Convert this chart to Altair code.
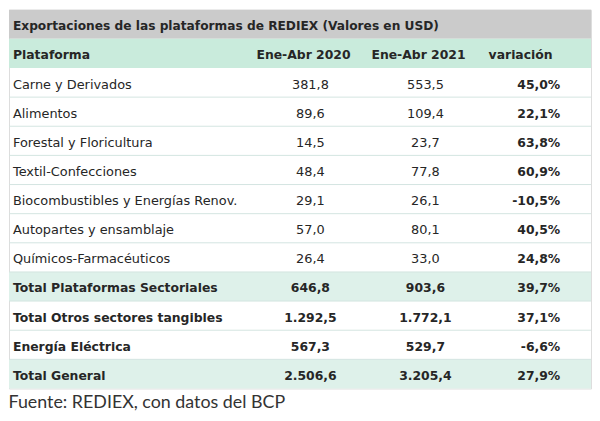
import altair as alt
import pandas as pd

title_text = "Exportaciones de las plataformas de REDIEX (Valores en USD)"
headers = ["Plataforma", "Ene-Abr 2020", "Ene-Abr 2021", "variación"]
labels = [
    "Carne y Derivados", "Alimentos", "Forestal y Floricultura",
    "Textil-Confecciones", "Biocombustibles y Energías Renov.",
    "Autopartes y ensamblaje", "Químicos-Farmacéuticos",
    "Total Plataformas Sectoriales", "Total Otros sectores tangibles",
    "Energía Eléctrica", "Total General",
]
v2020 = [381.8, 89.6, 14.5, 48.4, 29.1, 57.0, 26.4, 646.8, 1292.5, 567.3, 2506.6]
v2021 = [553.5, 109.4, 23.7, 77.8, 26.1, 80.1, 33.0, 903.6, 1772.1, 529.7, 3205.4]
variacion = [45.0, 22.1, 63.8, 60.9, -10.5, 40.5, 24.8, 39.7, 37.1, -6.6, 27.9]
bold = [False] * 7 + [True] * 4
source = "Fuente: REDIEX, con datos del BCP"

W, H = 587, 382
FONT = "DejaVu Sans"
FS_N = 13
FS_B = 12.5
TXT = "#262626"
DY = 2

rows = pd.DataFrame({
    "row": list(range(2, 2 + len(labels))),
    "label": labels, "v2020": v2020, "v2021": v2021,
    "variacion": variacion, "bold": bold,
})
bg = pd.DataFrame({"row": [0, 1, 9, 12],
                   "fill": ["#cbcbcb", "#c9ebdc", "#def1ea", "#def1ea"]})
lines = pd.DataFrame({"row": list(range(2, 12))})
top = pd.DataFrame({"row": [0], "t": [title_text]})
head = pd.DataFrame({"row": [1], "h0": [headers[0]], "h1": [headers[1]],
                     "h2": [headers[2]], "h3": [headers[3]]})

yscale = alt.Scale(domain=list(range(13)), paddingInner=0, paddingOuter=0)
Y = alt.Y("row:O", scale=yscale, axis=None)

rect = alt.Chart(bg).mark_rect().encode(
    y=Y, x=alt.value(0), x2=alt.value("width"),
    color=alt.Color("fill:N", scale=None),
)
rules = alt.Chart(lines).mark_rule(color="#d3e5e1", strokeWidth=1).encode(
    y=alt.Y("row:O", scale=yscale, axis=None, bandPosition=1),
    x=alt.value(0), x2=alt.value("width"),
)

def txt(df, field, x, align, weight, size, fmt=None, filt=None):
    c = alt.Chart(df)
    if filt is not None:
        c = c.transform_filter(filt)
    t = alt.Text(field, format=fmt) if fmt else alt.Text(field)
    return c.mark_text(align=align, baseline="middle", dy=DY, font=FONT,
                       fontSize=size, fontWeight=weight, color=TXT).encode(
        y=Y, x=alt.value(x), text=t)

layers = [rect, rules,
          txt(top, "t:N", 4, "left", "bold", 12.3),
          txt(head, "h0:N", 4, "left", "bold", FS_B),
          txt(head, "h1:N", 297, "center", "bold", FS_B),
          txt(head, "h2:N", 413, "center", "bold", FS_B),
          txt(head, "h3:N", 516, "center", "bold", FS_B)]

for filt, w, s in [("!datum.bold", "normal", FS_N), ("datum.bold", "bold", FS_B)]:
    layers.append(txt(rows, "label:N", 4, "left", w, s, filt=filt))
    layers.append(txt(rows, "v2020:Q", 304, "center", w, s, fmt=",.1f", filt=filt))
    layers.append(txt(rows, "v2021:Q", 420, "center", w, s, fmt=",.1f", filt=filt))

pct = alt.Chart(rows).transform_calculate(frac="datum.variacion / 100").mark_text(
    align="right", baseline="middle", dy=DY, font=FONT, fontSize=FS_B,
    fontWeight="bold", color=TXT).encode(
    y=Y, x=alt.value(556), text=alt.Text("frac:Q", format=".1%"))
layers.append(pct)

chart = alt.layer(*layers).properties(
    width=W, height=H, padding=0,
    title=alt.Title(source, orient="bottom", anchor="start", font="Lato",
                    fontSize=18, fontWeight="normal", color="#333333", offset=6),
).configure_view(stroke=None).configure(
    locale={"number": {"decimal": ",", "thousands": ".", "grouping": [3],
                       "currency": ["", ""], "minus": "-"}}
)

chart.save("out.html", embed_options={"renderer": "svg", "actions": False})
